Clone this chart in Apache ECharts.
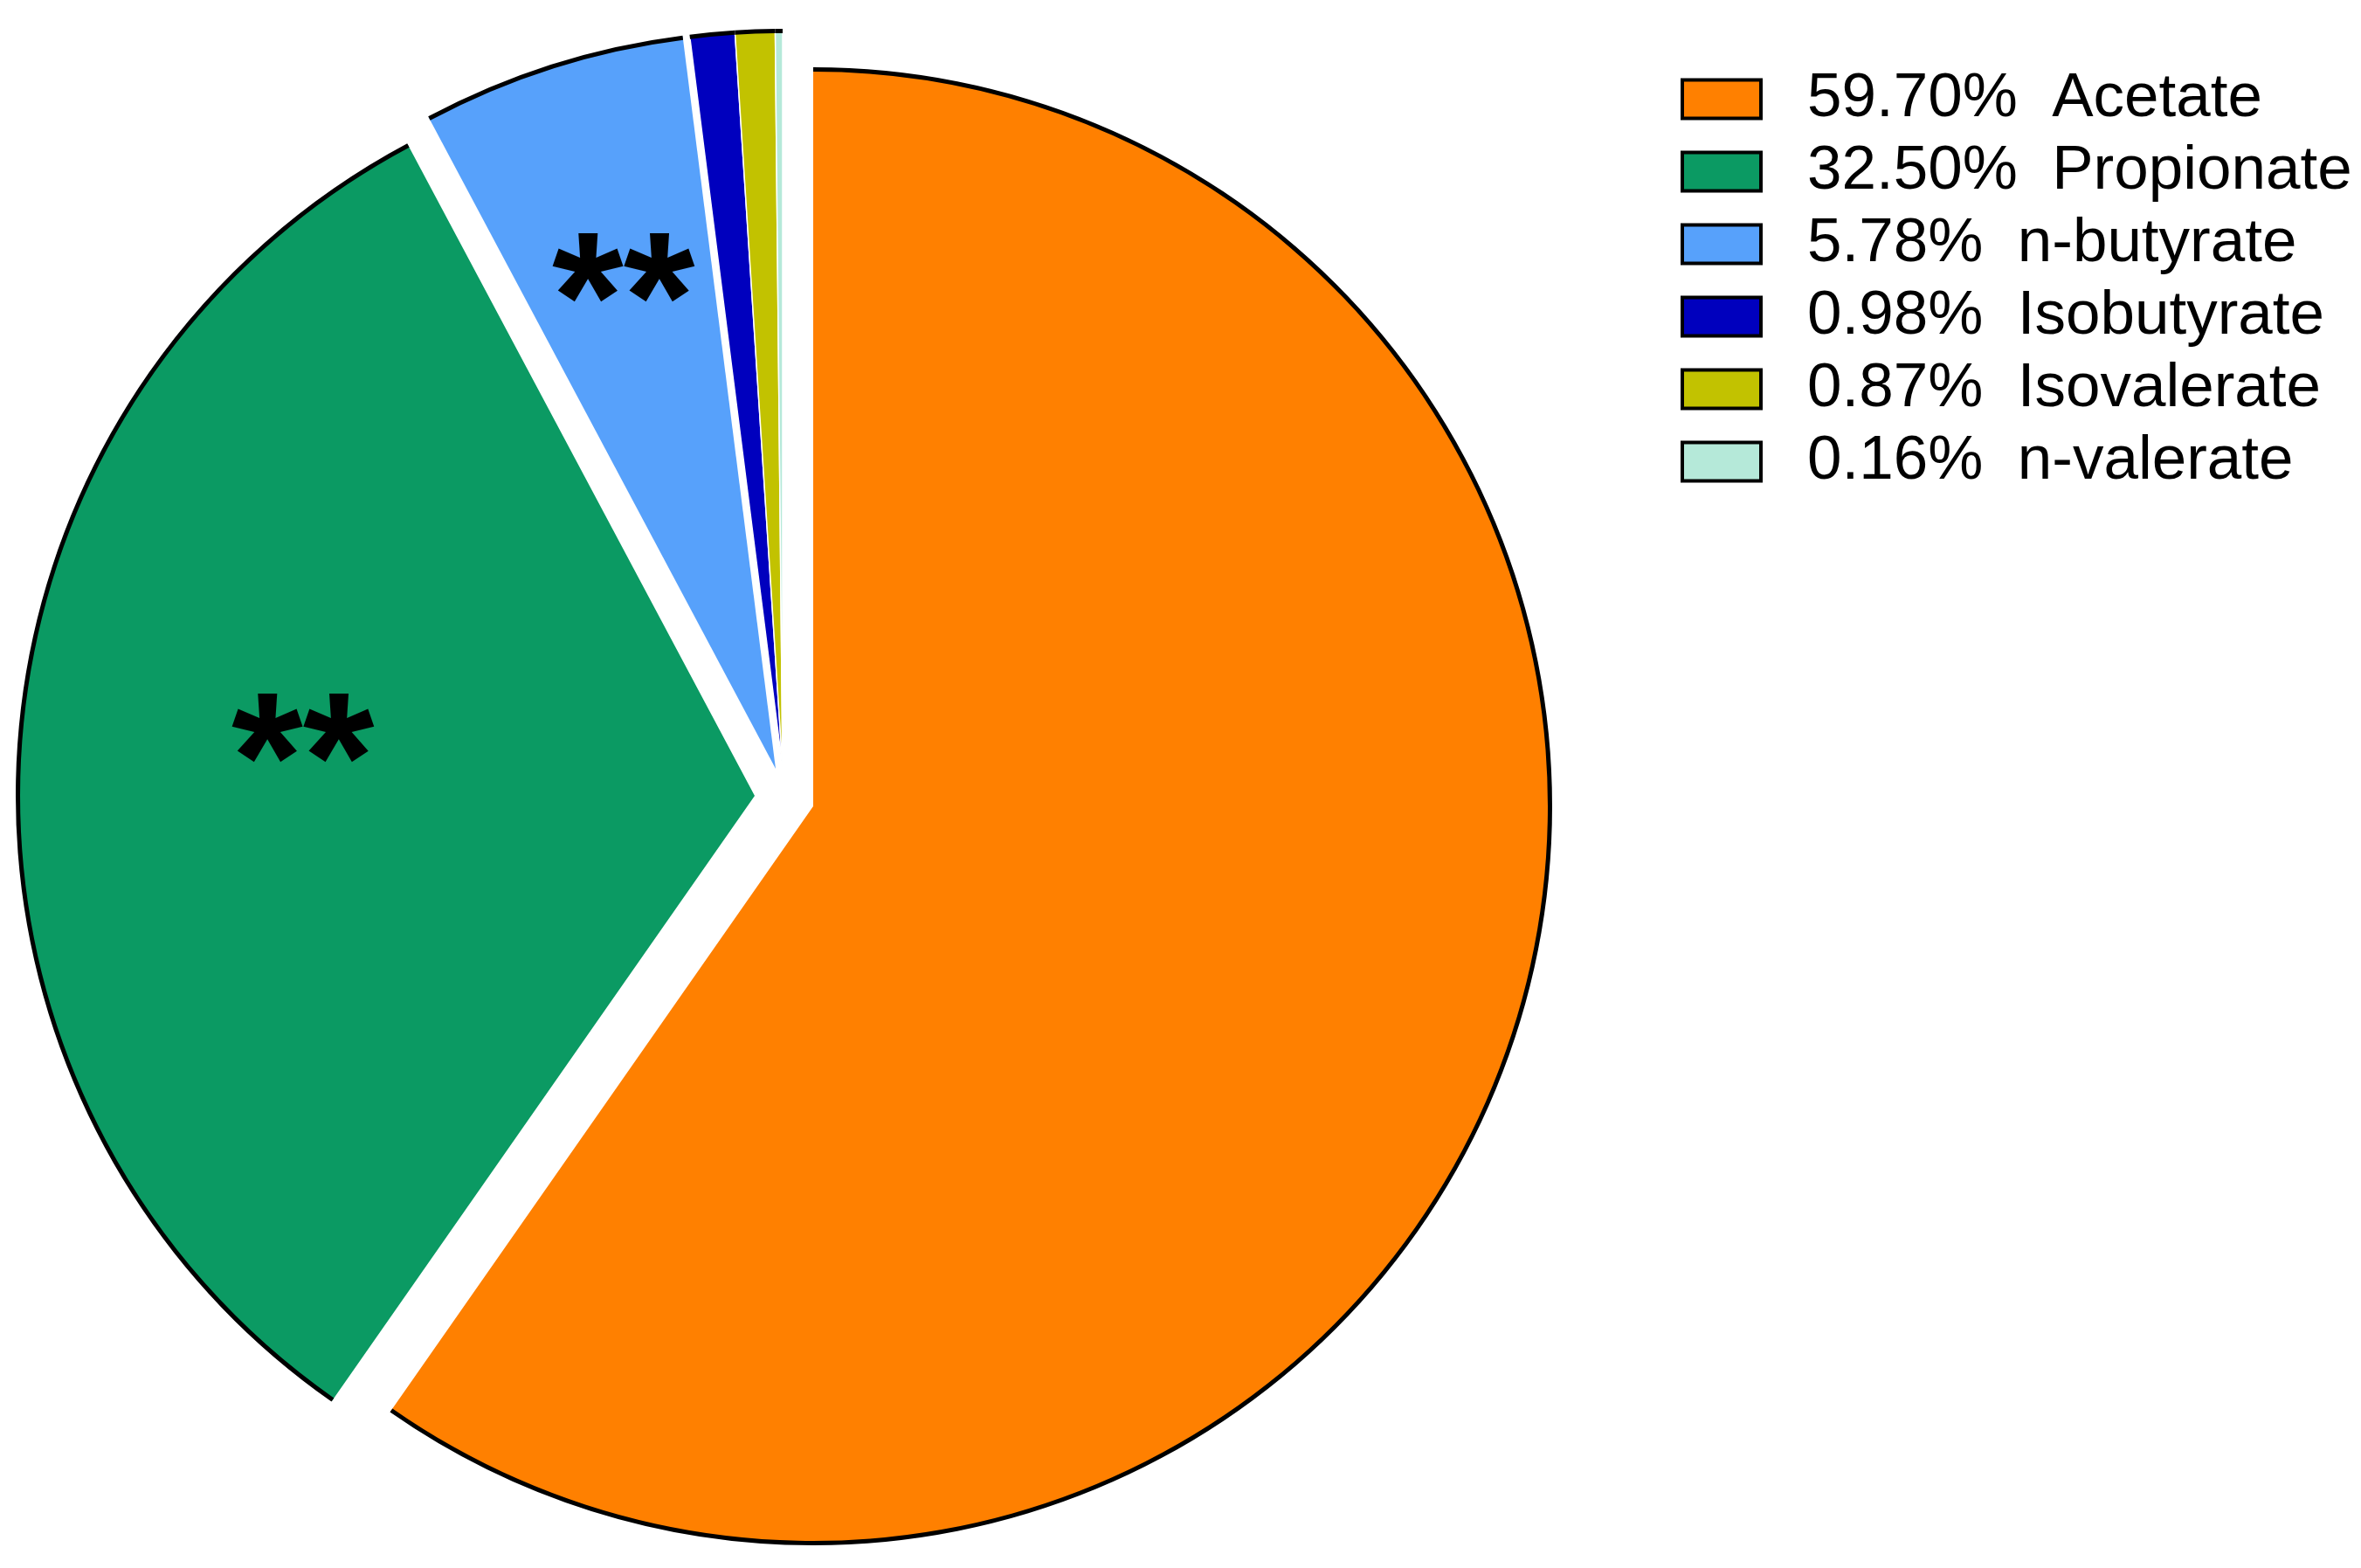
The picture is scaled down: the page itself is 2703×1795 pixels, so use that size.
<!DOCTYPE html>
<html>
<head>
<meta charset="utf-8">
<script src="https://cdn.jsdelivr.net/npm/echarts@6/dist/echarts.min.js"></script>
<style>
  html, body { margin: 0; padding: 0; background: #fff; }
  #chart { width: 2703px; height: 1795px; }
</style>
</head>
<body>
<div id="chart"></div>
<script>
  // data
  var acids = ['Acetate', 'Propionate', 'n-butyrate', 'Isobutyrate', 'Isovalerate', 'n-valerate'];
  var shares = [59.70, 32.50, 5.78, 0.98, 0.87, 0.16];
  var colors = ['#FF8000', '#0B9A63', '#57A1FB', '#0000BE', '#C2C200', '#B5E9D9'];
  var marks = ['', '**', '**', '', '', ''];

  // exploded groups: which slices share one pie centre
  var R = 845;
  var groups = [
    { idx: [0], center: [931, 923] },
    { idx: [1], center: [864, 911] },
    { idx: [2], center: [888, 880] },
    { idx: [3, 4, 5], center: [896, 879] }
  ];

  var series = [];
  groups.forEach(function (g) {
    // the filled slices
    series.push({
      type: 'pie',
      radius: R,
      center: g.center,
      startAngle: 90,
      clockwise: true,
      silent: true,
      avoidLabelOverlap: false,
      label: { show: false },
      labelLine: { show: false },
      data: acids.map(function (n, i) {
        var on = g.idx.indexOf(i) >= 0;
        return {
          name: n,
          value: shares[i],
          itemStyle: {
            color: on ? colors[i] : 'rgba(0,0,0,0)',
            borderColor: on && g.idx.length > 1 ? '#fff' : 'rgba(0,0,0,0)',
            borderWidth: on && g.idx.length > 1 ? 1.5 : 0
          }
        };
      })
    });
    // black outer arc only
    series.push({
      type: 'pie',
      radius: [R - 4, R + 1],
      center: g.center,
      startAngle: 90,
      clockwise: true,
      silent: true,
      avoidLabelOverlap: false,
      label: { show: false },
      labelLine: { show: false },
      data: acids.map(function (n, i) {
        return {
          name: n,
          value: shares[i],
          itemStyle: { color: g.idx.indexOf(i) >= 0 ? '#000' : 'rgba(0,0,0,0)', borderWidth: 0 }
        };
      })
    });
  });

  // legend swatches as rich boxes so the black frame keeps its weight
  var rich = {
    t: { fontFamily: 'Liberation Sans, Arial, sans-serif', fontSize: 71, color: '#000', lineHeight: 44, padding: [0, 0, 0, 55], verticalAlign: 'middle' }
  };
  colors.forEach(function (c, i) {
    rich['b' + i] = { width: 86, height: 40, backgroundColor: c, borderColor: '#000', borderWidth: 4, verticalAlign: 'middle' };
  });

  var chart = echarts.init(document.getElementById('chart'));
  chart.setOption({
    animation: false,
    backgroundColor: '#fff',
    legend: {
      orient: 'vertical',
      left: 1918,
      top: 73,
      icon: 'none',
      itemWidth: 0,
      itemHeight: 44,
      itemGap: 12,
      selectedMode: false,
      data: acids,
      formatter: function (name) {
        var i = acids.indexOf(name);
        return '{b' + i + '|}{t|' + shares[i].toFixed(2) + '%  ' + name + '}';
      },
      textStyle: { lineHeight: 44, rich: rich }
    },
    graphic: [
      { type: 'text', z: 100, left: 265, top: 775, style: { text: marks[1], font: 'bold 210px Liberation Sans, Arial', fill: '#000' } },
      { type: 'text', z: 100, left: 632, top: 248, style: { text: marks[2], font: 'bold 210px Liberation Sans, Arial', fill: '#000' } }
    ],
    series: series
  });
</script>
</body>
</html>
